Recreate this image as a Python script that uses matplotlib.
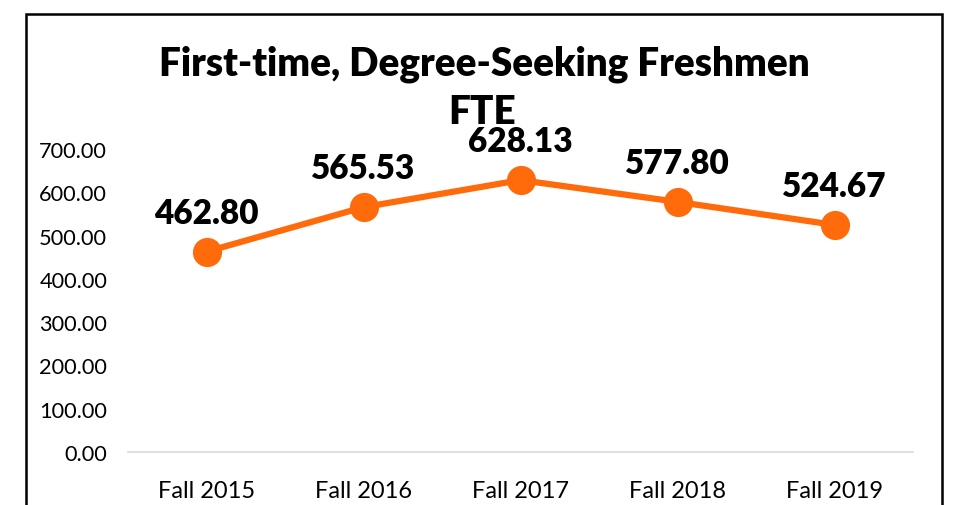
import matplotlib
matplotlib.use("Agg")
import matplotlib.pyplot as plt
from matplotlib.patches import Rectangle

categories = ["Fall 2015", "Fall 2016", "Fall 2017", "Fall 2018", "Fall 2019"]
values = [462.80, 565.53, 628.13, 577.80, 524.67]
yticks = [0, 100, 200, 300, 400, 500, 600, 700]
title_line1 = "First-time, Degree-Seeking Freshmen"
title_line2 = "FTE"

plt.rcParams['font.family'] = ['Lato', 'DejaVu Sans']
W, H = 963, 506
fig = plt.figure(figsize=(W/100, H/100), dpi=100)

# outer chart frame (bottom edge cut off)
fig.patches.append(Rectangle((26/W, -0.05), (942-26)/W, (H-15)/H + 0.05,
                             transform=fig.transFigure, fill=False,
                             edgecolor='black', linewidth=1.8))

ax = fig.add_axes([128/W, (H-453)/H, (913-128)/W, (453-150)/H])
ax.set_ylim(0, 700)
ax.set_xlim(-0.5, 4.5)
x = list(range(len(categories)))
ax.plot(x, values, color='#FF6A0A', linewidth=4.5, marker='o', markersize=21,
        markeredgewidth=0, zorder=3, clip_on=False)
for xi, v in zip(x, values):
    ax.annotate(f"{v:.2f}", (xi, v), xytext=(0, 16.5), textcoords='offset points',
                ha='center', va='bottom', fontsize=24, fontweight='heavy', color='black', zorder=5)

ax.set_yticks(yticks)
ax.set_yticklabels([f"{t:.2f}" for t in yticks], fontsize=15.7)
ax.set_xticks(x)
ax.set_xticklabels(categories, fontsize=17)
ax.tick_params(length=0)
ax.tick_params(axis='x', pad=20)
ax.tick_params(axis='y', pad=15)
for s in ['top', 'right', 'left']:
    ax.spines[s].set_visible(False)
ax.spines['bottom'].set_color('#D9D9D9')
ax.spines['bottom'].set_linewidth(1.2)

fig.text(484/W, 1 - 64/H, title_line1, ha='center', va='center', fontsize=27.8,
         fontweight='heavy')
fig.text(482/W, 1 - 113/H, title_line2, ha='center', va='center', fontsize=27.8,
         fontweight='heavy')

fig.savefig("out.png", dpi=100)
